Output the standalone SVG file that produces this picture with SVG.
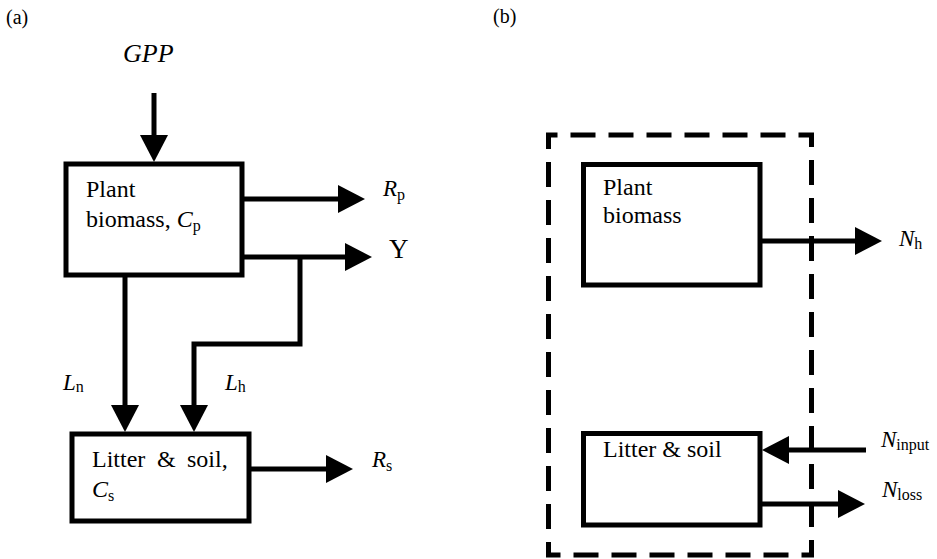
<svg xmlns="http://www.w3.org/2000/svg" width="937" height="559" viewBox="0 0 937 559" font-family="'Liberation Serif', 'Times New Roman', Times, 'DejaVu Serif', serif">
<style>
text{font-family:"Liberation Serif","Times New Roman",Times,"DejaVu Serif",serif;fill:#000}
.t{font-size:24px}
.i{font-size:23px;font-style:italic}
.sub{font-size:16px;font-style:normal}
.box{fill:#fff;stroke:#000;stroke-width:5}
.c{fill:none;stroke:#000;stroke-width:5;marker-end:url(#ah)}
</style>
<defs>
<marker id="ah" markerUnits="userSpaceOnUse" markerWidth="28" markerHeight="28" refX="17" refY="14" orient="auto">
<path d="M0,0 L27,14 L0,28 z" fill="#000"/>
</marker>
</defs>
<rect width="937" height="559" fill="#fff"/>
<text x="6" y="24" style="font-size:20px">(a)</text>
<text x="493" y="23" style="font-size:20px">(b)</text>
<g id="boundary">
<rect x="548.5" y="135" width="263" height="420" fill="none" stroke="#000" stroke-width="5" stroke-dasharray="25 13" stroke-dashoffset="16"/>
</g>
<g id="connectors">
<line class="c" x1="154" y1="93" x2="154" y2="152"/>
<line class="c" x1="244" y1="199" x2="355" y2="199"/>
<line class="c" x1="244" y1="257" x2="362" y2="257"/>
<polyline class="c" points="300,257 300,344 194,344 194,422"/>
<line class="c" x1="125" y1="277" x2="125" y2="422"/>
<line class="c" x1="251" y1="469" x2="343" y2="469"/>
<line class="c" x1="762" y1="241" x2="872" y2="241"/>
<line class="c" x1="866" y1="450" x2="772" y2="450"/>
<line class="c" x1="762" y1="504" x2="855" y2="504"/>
</g>
<g id="plant-a">
<rect class="box" x="66" y="164" width="176" height="111"/>
<text class="t" x="86" y="197">Plant</text>
<text class="t" x="86" y="227">biomass, <tspan style="font-style:italic">C</tspan><tspan class="sub" dy="4">p</tspan></text>
</g>
<g id="litter-a">
<rect class="box" x="72" y="434" width="177" height="87"/>
<text class="t" x="92" y="467">Litter<tspan x="157">&amp;</tspan><tspan x="187">soil,</tspan></text>
<text class="t" x="92" y="497" style="font-style:italic">C<tspan class="sub" dy="4">s</tspan></text>
</g>
<g id="plant-b">
<rect class="box" x="583.5" y="164.5" width="176.5" height="120.5"/>
<text class="t" x="603" y="195">Plant</text>
<text class="t" x="603" y="223">biomass</text>
</g>
<g id="litter-b">
<rect class="box" x="583.5" y="433.5" width="176.5" height="91.5"/>
<text class="t" x="603" y="457">Litter &amp; soil</text>
</g>
<g id="labels">
<text x="123" y="62" style="font-size:26px;font-style:italic">GPP</text>
<text class="i" x="383" y="196">R<tspan class="sub" dy="4">p</tspan></text>
<text x="389" y="258" style="font-size:27px">Y</text>
<text class="i" x="63" y="390">L<tspan class="sub" dy="2">n</tspan></text>
<text class="i" x="225" y="390">L<tspan class="sub" dy="2">h</tspan></text>
<text class="i" x="372" y="467">R<tspan class="sub" dy="4">s</tspan></text>
<text class="i" x="899" y="246">N<tspan class="sub" dy="3">h</tspan></text>
<text class="i" x="881" y="447">N<tspan class="sub" dy="3">input</tspan></text>
<text class="i" x="882" y="497">N<tspan class="sub" dy="3">loss</tspan></text>
</g>
</svg>
